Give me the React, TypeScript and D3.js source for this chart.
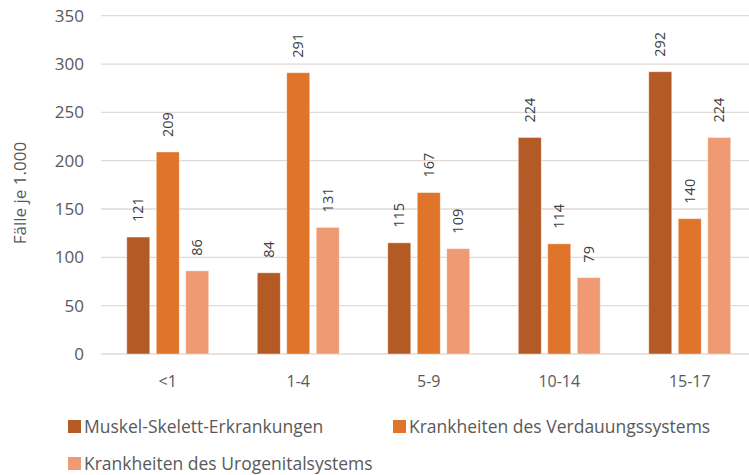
import * as d3 from "d3";
import { useEffect, useRef } from "react";

const ageGroups = ["<1", "1-4", "5-9", "10-14", "15-17"];
const seriesNames = [
  "Muskel-Skelett-Erkrankungen",
  "Krankheiten des Verdauungssystems",
  "Krankheiten des Urogenitalsystems",
];
const muskelSkelett = [121, 84, 115, 224, 292];
const verdauung = [209, 291, 167, 114, 140];
const urogenital = [86, 131, 109, 79, 224];
const yTicks = [0, 50, 100, 150, 200, 250, 300, 350];
const colors = ["#B35A25", "#E0742A", "#EF9A72"];

const width = 749;
const height = 475;
const font = "'Open Sans', sans-serif";

const App = () => {
  const ref = useRef<SVGSVGElement>(null);

  useEffect(() => {
    const svg = d3.select(ref.current);
    svg.selectAll("*").remove();

    const values = [muskelSkelett, verdauung, urogenital];

    const x0 = d3
      .scaleBand()
      .domain(ageGroups)
      .range([102.5, 755])
      .paddingInner(0.372)
      .paddingOuter(0.186);
    const x1 = d3
      .scaleBand()
      .domain(seriesNames)
      .range([0, x0.bandwidth()])
      .paddingInner(0.22);
    const y = d3.scaleLinear().domain([0, 350]).range([354, 15.7]);

    // grid
    svg
      .append("g")
      .selectAll("line")
      .data(yTicks)
      .join("line")
      .attr("x1", 101)
      .attr("x2", width)
      .attr("y1", (d) => y(d))
      .attr("y2", (d) => y(d))
      .attr("stroke", "#E2DAD3")
      .attr("stroke-width", 1.3);

    // y tick labels
    svg
      .append("g")
      .selectAll("text")
      .data(yTicks)
      .join("text")
      .attr("x", 84)
      .attr("y", (d) => y(d))
      .attr("dy", "0.35em")
      .attr("text-anchor", "end")
      .attr("font-family", font)
      .attr("font-size", 17)
      .attr("fill", "#595959")
      .text((d) => d);

    // y title
    svg
      .append("text")
      .attr("transform", "translate(26,193) rotate(-90)")
      .attr("text-anchor", "middle")
      .attr("font-family", font)
      .attr("font-size", 17)
      .attr("fill", "#595959")
      .text("Fälle je 1.000");

    // bars + labels
    const groups = svg
      .append("g")
      .selectAll("g")
      .data(ageGroups)
      .join("g")
      .attr("transform", (d) => `translate(${x0(d)},0)`);

    seriesNames.forEach((name, si) => {
      groups
        .append("rect")
        .attr("x", x1(name)!)
        .attr("width", x1.bandwidth())
        .attr("y", (_, i) => y(values[si][i]))
        .attr("height", (_, i) => y(0) - y(values[si][i]))
        .attr("fill", colors[si])
        .attr("stroke", "#fff")
        .attr("stroke-opacity", 0.5)
        .attr("stroke-width", 0.8);

      groups
        .append("text")
        .attr(
          "transform",
          (_, i) =>
            `translate(${x1(name)! + x1.bandwidth() / 2},${y(values[si][i]) - 15}) rotate(-90)`
        )
        .attr("dy", "0.35em")
        .attr("text-anchor", "start")
        .attr("font-family", font)
        .attr("font-size", 14.5)
        .attr("fill", "#404040")
        .text((_, i) => values[si][i]);
    });

    // x labels
    svg
      .append("g")
      .selectAll("text")
      .data(ageGroups)
      .join("text")
      .attr("x", (d) => x0(d)! + x0.bandwidth() / 2)
      .attr("y", 387)
      .attr("text-anchor", "middle")
      .attr("font-family", font)
      .attr("font-size", 16)
      .attr("fill", "#595959")
      .text((d) => d);

    // legend
    const legendPos = [
      { x: 68, y: 433 },
      { x: 393, y: 433 },
      { x: 68, y: 470 },
    ];
    const legend = svg
      .append("g")
      .selectAll("g")
      .data(seriesNames)
      .join("g")
      .attr("transform", (_, i) => `translate(${legendPos[i].x},${legendPos[i].y})`);
    legend
      .append("rect")
      .attr("x", 0)
      .attr("y", -13)
      .attr("width", 13)
      .attr("height", 13)
      .attr("fill", (_, i) => colors[i]);
    legend
      .append("text")
      .attr("x", 16)
      .attr("y", 0)
      .attr("font-family", font)
      .attr("font-size", 17.5)
      .attr("fill", "#595959")
      .text((d) => d);
  }, []);

  return (
    <svg
      ref={ref}
      width={width}
      height={height}
      style={{ position: "absolute", left: 0, top: 0, background: "#fff" }}
    />
  );
};

export default App;
